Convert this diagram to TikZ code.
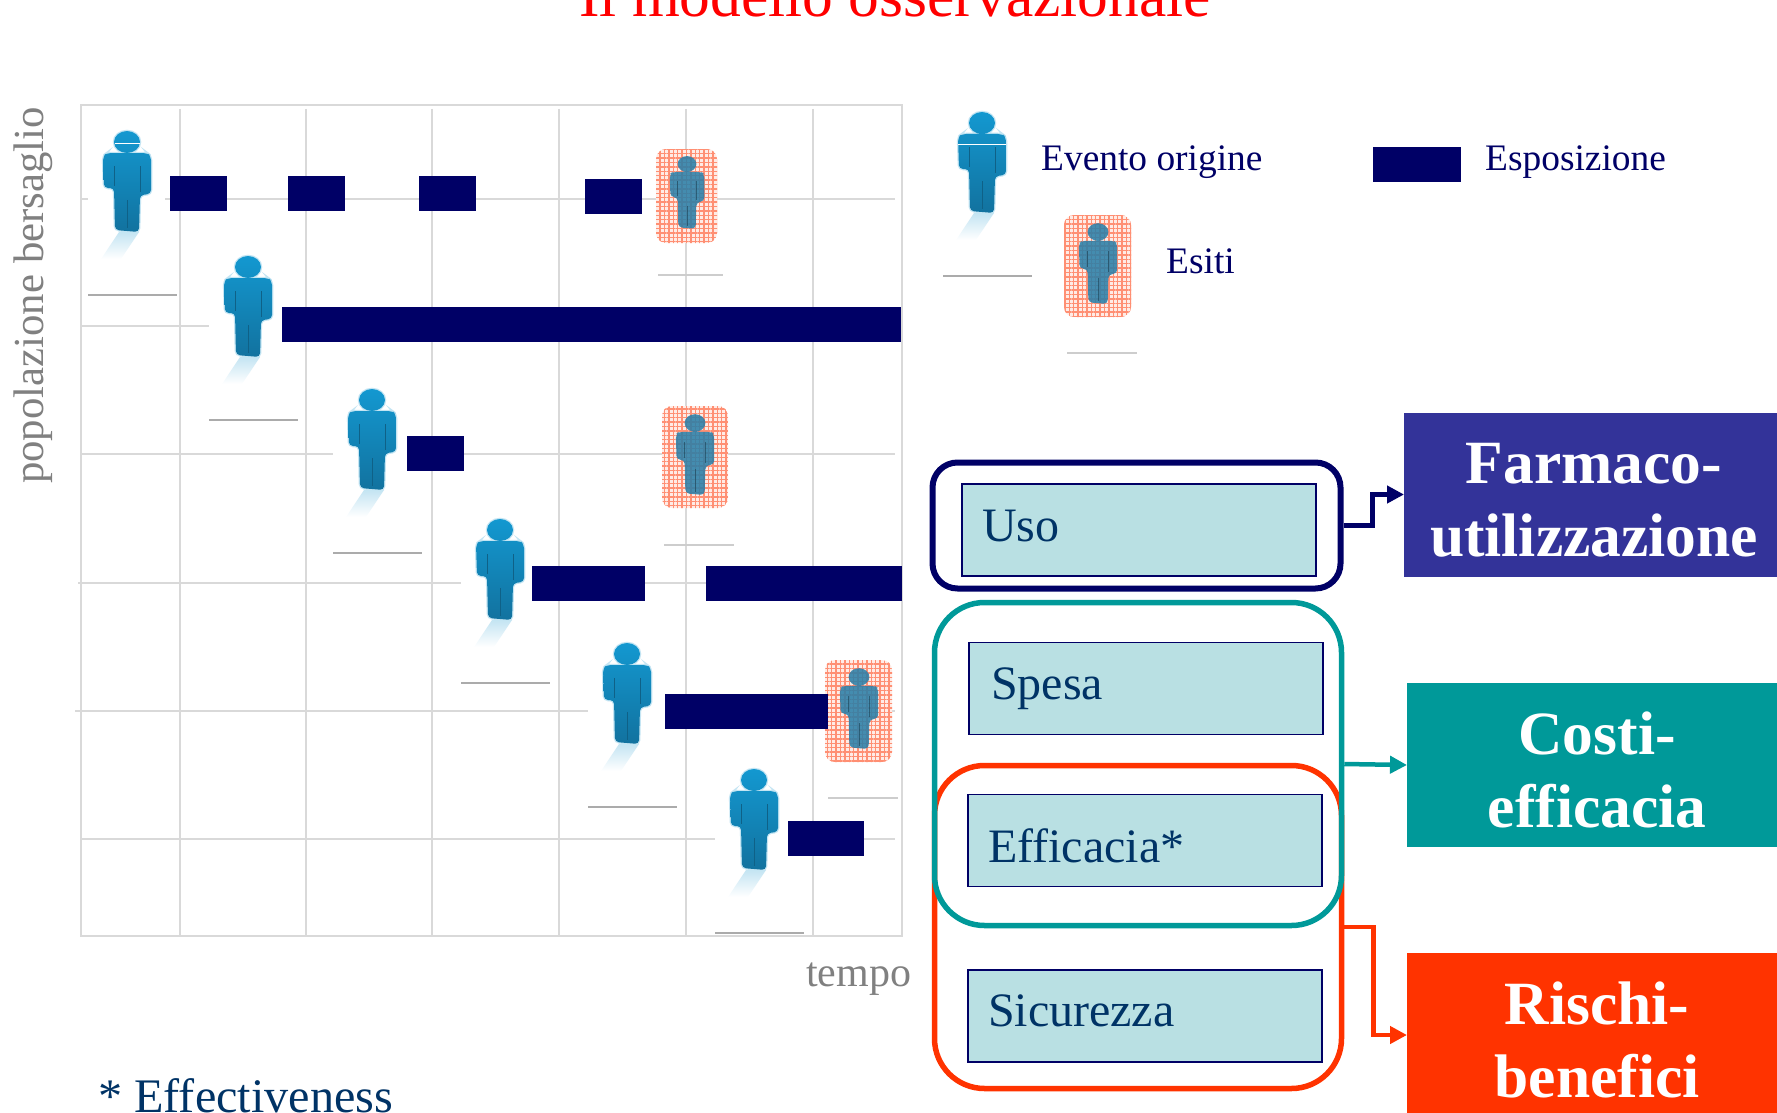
\documentclass[tikz,border=0pt]{standalone}
\usepackage{fontspec}
\setmainfont{Liberation Serif}
\usetikzlibrary{arrows.meta,patterns.meta,fadings}
\definecolor{navy}{HTML}{000066}
\definecolor{inknavy}{HTML}{003366}
\definecolor{gridgray}{HTML}{D9D9D9}
\definecolor{rulegray}{HTML}{ABABAB}
\definecolor{textgray}{HTML}{808080}
\definecolor{boxcyan}{HTML}{B9E0E3}
\definecolor{farmacoblue}{HTML}{333399}
\definecolor{costiteal}{HTML}{009999}
\definecolor{rischired}{HTML}{FF3300}
\definecolor{persontop}{HTML}{1398D0}
\definecolor{personlow}{HTML}{12729F}
\definecolor{sickblue}{HTML}{2B7FA8}
% outline of the little man, head centre at (0,0)
\newcommand{\manshape}{(-13,0) arc (180:-180:13 and 11)
	(-20,11) [rounded corners=4pt] -- (20,11) -- (24,14) -- (24,52) -- (13,53) -- (12,90) -- (-12,88) -- (-13,46) -- (-23,46) -- (-24,14) -- cycle}
\tikzset{
	grid line/.style={color=gridgray,line width=1.6pt},
	exposure/.style={fill=navy},
	man/.pic={
		\fill [white] (-39,-14) rectangle (38,108);
		\fill [persontop!25,path fading=south] (-8,90) -- (12,90) -- (-6,117) -- (-26,117) -- cycle;
		\draw [persontop!25,line width=2.5pt] \manshape;
		\shade [top color=persontop,bottom color=personlow] \manshape;
		\draw [personlow!85!black,line width=.8pt] (-13,24) -- (-13,44) (13,24) -- (13,50) (0,58) -- (0,86);
		\draw [rulegray,line width=2pt] (-39,153) -- (50,153);
	},
	sick man/.pic={
		\fill [sickblue,opacity=.88] \manshape;
		\draw [sickblue!40!black,opacity=.5,line width=.8pt] (-13,24) -- (-13,44) (13,24) -- (13,50) (0,58) -- (0,86);
	},
	outcome/.style={rounded corners=10pt,
		pattern={Lines[angle=0,distance=4.4pt,line width=1.4pt]},pattern color=rischired!55,
		preaction={fill=rischired!10},
		postaction={pattern={Lines[angle=90,distance=4.4pt,line width=1.4pt]},pattern color=rischired!55}},
	measure/.style={draw=navy,line width=1.5pt,fill=boxcyan,text=inknavy,font=\fontsize{48}{50}\selectfont,
		minimum width=354pt,minimum height=92pt,text width=314pt,inner xsep=20pt,inner ysep=0pt,outer sep=0pt,
		align=left,text height=32pt,text depth=10pt},
	target/.style={fill=#1,text=white,font=\bfseries\fontsize{61.5}{73}\selectfont,align=center,
		minimum width=380pt,minimum height=164pt,inner sep=0pt,outer sep=0pt,text height=124pt,text depth=0pt},
	legend text/.style={text=navy,font=\fontsize{37.4}{40}\selectfont,inner sep=0pt},
	axis text/.style={text=textgray,inner sep=0pt},
	>={Triangle[length=17pt,width=17pt]}
}
\begin{document}
\begin{tikzpicture}[x=1pt,y=-1pt]
	\useasboundingbox (0,0) rectangle (1777,1113);
	% title, cut by the page
		\node [anchor=base,text=red,inner sep=0pt,font=\fontsize{61.5}{64}\selectfont] (title) at (895,17) {Il modello osservazionale};
	% grid
		\draw [grid line,line width=1.2pt] (81,105) -- (902,105) -- (902,936) -- (81,936) -- cycle;
		\draw [grid line] (180,109) -- (180,936);
		\draw [grid line] (306,109) -- (306,936);
		\draw [grid line] (432,109) -- (432,936);
		\draw [grid line] (559,109) -- (559,936);
		\draw [grid line] (686,109) -- (686,936);
		\draw [grid line] (813,109) -- (813,936);
		\draw [grid line] (81,199) -- (895,199);
		\draw [grid line] (81,326) -- (895,326);
		\draw [grid line] (81,454) -- (895,454);
		\draw [grid line] (78,583) -- (902,583);
		\draw [grid line] (75,711) -- (895,711);
		\draw [grid line] (81,839) -- (895,839);
	% axis labels
		\node [axis text,anchor=base west,rotate=90,font=\fontsize{42.8}{45}\selectfont] (popolazione) at (43,484) {popolazione bersaglio};
		\node [axis text,anchor=base west,font=\fontsize{42}{44}\selectfont] (tempo) at (806,986) {tempo};
	% men
		\pic at (127,142) {man};
		\draw [white,line width=.7pt] (115,143) -- (140,143);
		\pic at (248,267) {man};
		\pic at (372,400) {man};
		\pic at (500,530) {man};
		\pic at (627,654) {man};
		\pic at (754,780) {man};
	% outcomes
		\node [outcome,minimum width=61pt,minimum height=94pt,inner sep=0pt] (esito1) at (686.5,196) {};
		\pic [scale=.72] at (687,164) {sick man};
		\draw [rulegray!60,line width=2pt] (658,275) -- (723,275);
		\node [outcome,minimum width=66pt,minimum height=102pt,inner sep=0pt] (esito2) at (695,457) {};
		\pic [scale=.8] at (695,423) {sick man};
		\draw [rulegray!60,line width=2pt] (664,545) -- (734,545);
		\node [outcome,minimum width=67pt,minimum height=102pt,inner sep=0pt] (esito3) at (858.5,711) {};
		\pic [scale=.8] at (859,677) {sick man};
		\draw [rulegray!60,line width=2pt] (828,798) -- (898,798);
	% exposure bars
		\fill [exposure] (170,176) rectangle (227,211);
		\fill [exposure] (288,176) rectangle (345,211);
		\fill [exposure] (419,176) rectangle (476,211);
		\fill [exposure] (585,179) rectangle (642,214);
		\fill [exposure] (282,307) rectangle (901,342);
		\fill [exposure] (407,436) rectangle (464,471);
		\fill [exposure] (532,566) rectangle (645,601);
		\fill [exposure] (706,566) rectangle (902,601);
		\fill [exposure] (665,694) rectangle (828,729);
		\fill [exposure] (788,821) rectangle (864,856);
	% legend
		\pic at (982,123) {man};
		\draw [white,line width=.7pt] (958,144) -- (1006,144);
		\node [legend text,anchor=base west] (evento) at (1041,170) {Evento origine};
		\fill [exposure] (1373,147) rectangle (1461,182);
		\node [legend text,anchor=base west] (esposizione) at (1485,170) {Esposizione};
		\node [outcome,minimum width=67pt,minimum height=102pt,inner sep=0pt] (esitolegend) at (1097.5,266) {};
		\pic [scale=.8] at (1098,232) {sick man};
		\draw [rulegray!60,line width=2pt] (1067,353) -- (1137,353);
		\node [legend text,anchor=base west] (esiti) at (1166,273) {Esiti};
	% measures
		\node [measure] (uso) at (1139,530) {Uso};
		\node [measure,inner xsep=22pt,text width=310pt] (spesa) at (1146,688.5) {Spesa};
		\node [measure,text height=44pt,text depth=0pt] (efficacia) at (1145,840.5) {Ef{}f{}icacia*};
		\node [measure,text height=31pt] (sicurezza) at (1145,1016) {Sicurezza};
	% frames
		\node [draw=rischired,line width=5.5pt,rounded corners=50pt,minimum width=407pt,minimum height=323pt,inner sep=0pt] (framerischi) at (1138,927) {};
		\node [draw=costiteal,line width=5.5pt,rounded corners=50pt,minimum width=407pt,minimum height=323pt,inner sep=0pt] (framecosti) at (1138,764) {};
		\node [draw=navy,line width=6pt,rounded corners=25pt,minimum width=408pt,minimum height=126pt,inner sep=0pt] (frameuso) at (1136.5,525.5) {};
	% targets
		\node [target=farmacoblue] (farmaco) at (1594,494.5) {Farmaco-\\utilizzazione};
		\node [target=costiteal] (costi) at (1597,765) {Costi-\\efficacia};
		\node [target=rischired] (rischi) at (1597,1035) {Rischi-\\benefici};
	% arrows
		\draw [->,draw=navy,line width=5pt] (frameuso.east) -- ++(29,0) |- (farmaco.west);
		\draw [->,draw=costiteal,line width=4.5pt] (framecosti.east) -- (costi.west);
		\draw [->,draw=rischired,line width=4.5pt] (framerischi.east) -- ++(29,0) |- (rischi.west);
	% footnote
		\node [anchor=base west,text=inknavy,inner sep=0pt,font=\fontsize{48.2}{50}\selectfont] (effectiveness) at (98,1112) {* Effectiveness};
\end{tikzpicture}
\end{document}
